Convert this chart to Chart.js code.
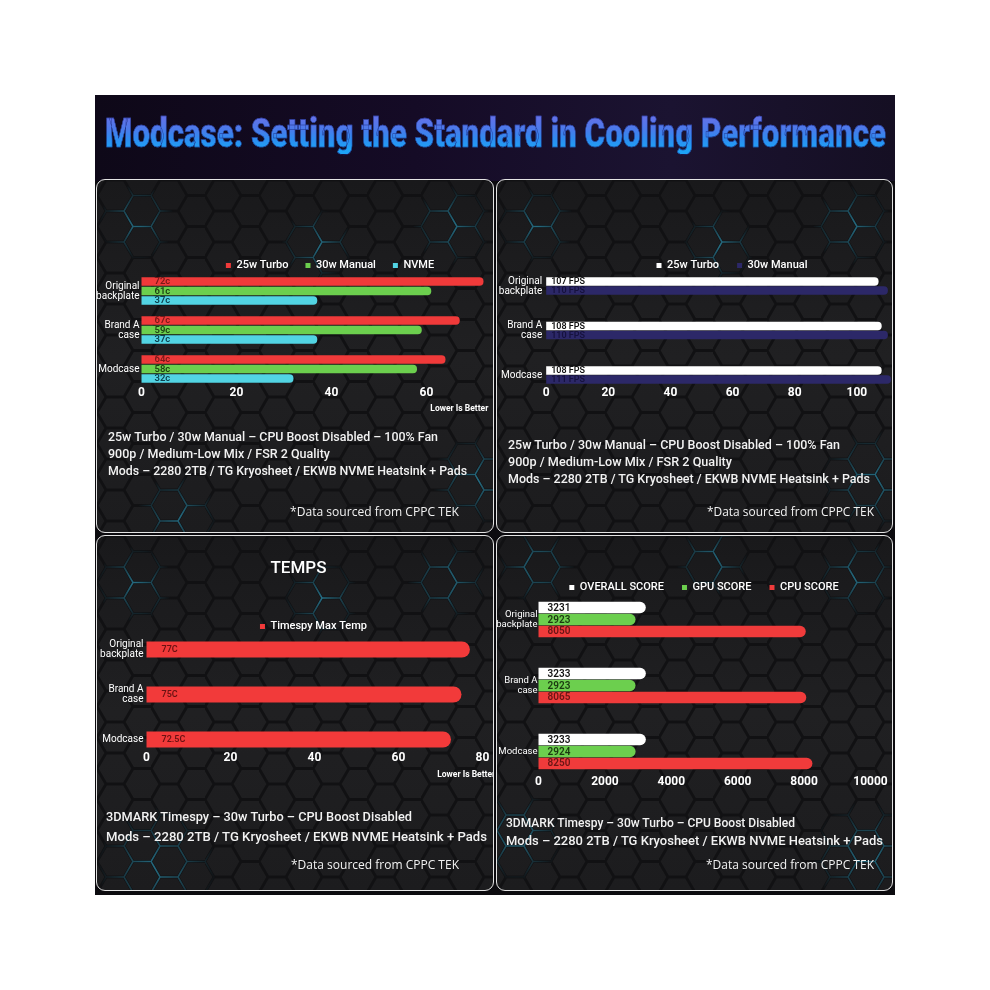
<!DOCTYPE html>
<html><head><meta charset="utf-8">
<script src="https://cdn.jsdelivr.net/npm/chart.js@4.4.1/dist/chart.umd.min.js"></script>
<style>
html,body{margin:0;padding:0;background:#fff;width:990px;height:990px;overflow:hidden;}
#frame{position:absolute;left:95px;top:95px;width:800px;height:800px;background:#0c0b0f;overflow:hidden;}
#band{position:absolute;left:0;top:0;width:800px;height:86px;background:linear-gradient(90deg,#0e0818 0%,#150b26 40%,#1b1331 72%,#150f23 100%);}
#title{position:absolute;left:10px;top:17.5px;white-space:nowrap;font-family:Roboto,'Liberation Sans',sans-serif;font-weight:900;font-size:41px;line-height:41px;color:transparent;background:linear-gradient(180deg,#6272e8 12%,#4a7aea 40%,#2c8df0 65%,#1ea3f6 88%);-webkit-background-clip:text;background-clip:text;transform-origin:0 50%;-webkit-text-stroke:0.5px #1c2c84;}
.panel{position:absolute;box-sizing:border-box;border:1.5px solid #e4e4e4;border-radius:9px;overflow:hidden;background-color:#1e1e20;
background-image:url("data:image/svg+xml,%3Csvg xmlns='http://www.w3.org/2000/svg' width='54' height='31'%3E%3Cpath d='M0 15.5L9 0H27L36 15.5L27 31H9Z M36 15.5H54' fill='none' stroke='%23111113' stroke-width='3'/%3E%3C/svg%3E"),linear-gradient(180deg,#19191b 0%,#202022 50%,#1c1c1e 100%);}
.glow{position:absolute;left:0;top:0;width:100%;height:100%;opacity:0.85;
background-image:url("data:image/svg+xml,%3Csvg xmlns='http://www.w3.org/2000/svg' width='54' height='31'%3E%3Cpath d='M0 15.5L9 0H27L36 15.5L27 31H9Z M36 15.5H54' fill='none' stroke='%232a7e98' stroke-width='1.6'/%3E%3C/svg%3E");}
.panel canvas{position:absolute;left:0;top:0;}
.txt{position:absolute;white-space:nowrap;color:#f2f2f2;font-family:Roboto,sans-serif;font-weight:500;font-size:12px;line-height:14px;transform-origin:0 50%;z-index:5;}
.src{font-family:'Open Sans',sans-serif;font-weight:400;}
</style></head>
<body>
<div id="frame">
  <div id="band"></div>
  <div id="title" class="fit" data-w="781">Modcase: Setting the Standard in Cooling Performance</div>

  <div class="panel" id="p1" style="left:1px;top:84px;width:398px;height:354px;">
    <div class="glow" style="-webkit-mask-image:radial-gradient(circle 38px at 40px 42px,#000,transparent),radial-gradient(circle 36px at 220px 65px,#000,transparent),radial-gradient(circle 40px at 355px 45px,#000,transparent),radial-gradient(circle 45px at 380px 300px,#000,transparent),radial-gradient(circle 40px at 80px 335px,#000,transparent);mask-image:radial-gradient(circle 38px at 40px 42px,#000,transparent),radial-gradient(circle 36px at 220px 65px,#000,transparent),radial-gradient(circle 40px at 355px 45px,#000,transparent),radial-gradient(circle 45px at 380px 300px,#000,transparent),radial-gradient(circle 40px at 80px 335px,#000,transparent);"></div>
    <canvas id="c1" width="395" height="240"></canvas>
  </div>
  <div class="panel" id="p2" style="left:401px;top:84px;width:397px;height:354px;">
    <div class="glow" style="-webkit-mask-image:radial-gradient(circle 38px at 40px 45px,#000,transparent),radial-gradient(circle 36px at 222px 65px,#000,transparent),radial-gradient(circle 40px at 355px 45px,#000,transparent),radial-gradient(circle 50px at 375px 300px,#000,transparent);mask-image:radial-gradient(circle 38px at 40px 45px,#000,transparent),radial-gradient(circle 36px at 222px 65px,#000,transparent),radial-gradient(circle 40px at 355px 45px,#000,transparent),radial-gradient(circle 50px at 375px 300px,#000,transparent);"></div>
    <canvas id="c2" width="394" height="240"></canvas>
  </div>
  <div class="panel" id="p3" style="left:1px;top:440px;width:398px;height:356px;">
    <div class="glow" style="-webkit-mask-image:radial-gradient(circle 38px at 38px 48px,#000,transparent),radial-gradient(circle 38px at 225px 62px,#000,transparent),radial-gradient(circle 40px at 350px 45px,#000,transparent),radial-gradient(circle 60px at 60px 330px,#000,transparent);mask-image:radial-gradient(circle 38px at 38px 48px,#000,transparent),radial-gradient(circle 38px at 225px 62px,#000,transparent),radial-gradient(circle 40px at 350px 45px,#000,transparent),radial-gradient(circle 60px at 60px 330px,#000,transparent);"></div>
    <canvas id="c3" width="405" height="250"></canvas>
  </div>
  <div class="panel" id="p4" style="left:401px;top:440px;width:397px;height:356px;">
    <div class="glow" style="-webkit-mask-image:radial-gradient(circle 38px at 40px 30px,#000,transparent),radial-gradient(circle 36px at 215px 25px,#000,transparent),radial-gradient(circle 40px at 360px 40px,#000,transparent),radial-gradient(circle 55px at 370px 320px,#000,transparent),radial-gradient(circle 45px at 20px 300px,#000,transparent);mask-image:radial-gradient(circle 38px at 40px 30px,#000,transparent),radial-gradient(circle 36px at 215px 25px,#000,transparent),radial-gradient(circle 40px at 360px 40px,#000,transparent),radial-gradient(circle 55px at 370px 320px,#000,transparent),radial-gradient(circle 45px at 20px 300px,#000,transparent);"></div>
    <canvas id="c4" width="414" height="260"></canvas>
  </div>

  <div class="txt fit" data-w="330" style="left:13px;top:334.7px;">25w Turbo / 30w Manual – CPU Boost Disabled – 100% Fan</div>
  <div class="txt fit" data-w="222" style="left:13px;top:352px;">900p / Medium-Low Mix / FSR 2 Quality</div>
  <div class="txt fit" data-w="359" style="left:13px;top:368.7px;">Mods – 2280 2TB / TG Kryosheet / EKWB NVME Heatsink + Pads</div>
  <div class="txt src fit" data-w="169" style="left:195px;top:409.7px;">*Data sourced from CPPC TEK</div>

  <div class="txt fit" data-w="332" style="left:413px;top:343px;">25w Turbo / 30w Manual – CPU Boost Disabled – 100% Fan</div>
  <div class="txt fit" data-w="224" style="left:413px;top:359.7px;">900p / Medium-Low Mix / FSR 2 Quality</div>
  <div class="txt fit" data-w="362" style="left:413px;top:377px;">Mods – 2280 2TB / TG Kryosheet / EKWB NVME Heatsink + Pads</div>
  <div class="txt src fit" data-w="167" style="left:612px;top:409.7px;">*Data sourced from CPPC TEK</div>

  <div class="txt fit" data-w="306" style="left:11px;top:715px;">3DMARK Timespy – 30w Turbo – CPU Boost Disabled</div>
  <div class="txt fit" data-w="381" style="left:11px;top:734.5px;">Mods – 2280 2TB / TG Kryosheet / EKWB NVME Heatsink + Pads</div>
  <div class="txt src fit" data-w="168" style="left:196px;top:763px;">*Data sourced from CPPC TEK</div>

  <div class="txt fit" data-w="289" style="left:411px;top:721px;">3DMARK Timespy – 30w Turbo – CPU Boost Disabled</div>
  <div class="txt fit" data-w="377" style="left:411px;top:739px;">Mods – 2280 2TB / TG Kryosheet / EKWB NVME Heatsink + Pads</div>
  <div class="txt src fit" data-w="168" style="left:611px;top:763px;">*Data sourced from CPPC TEK</div>
</div>

<script>
// ---- data ----
const categories = [['Original', 'backplate'], ['Brand A', 'case'], 'Modcase'];

// panel 1: temperatures (°C)
const tempTurbo25 = [72, 67, 64];
const tempManual30 = [61, 59, 58];
const tempNvme = [37, 37, 32];

// panel 2: FPS
const fpsTurbo25 = [107, 108, 108];
const fpsManual30 = [110, 110, 111];

// panel 3: Timespy max temp
const timespyMaxTemp = [77, 75, 72.5];

// panel 4: 3DMark scores
const overallScore = [3231, 3233, 3233];
const gpuScore = [2923, 2923, 2924];
const cpuScore = [8050, 8065, 8250];

// ---- plugins ----
Chart.defaults.font.family = 'Roboto, sans-serif';
Chart.defaults.color = '#ffffff';

const tweak = {
  id: 'tweak',
  beforeInit(chart, args, opts) {
    const lg = chart.legend;
    const extra = opts.legendExtra || 0;
    if (lg) {
      const f = lg.fit;
      lg.fit = function () { f.call(this); this.height += extra; };
    }
  },
  afterLayout(chart, args, opts) {
    const shift = (box, cx) => {
      if (!box || cx == null) return;
      const dx = cx - (box.left + box.right) / 2;
      box.left += dx; box.right += dx;
    };
    shift(chart.legend, opts.legendCx);
    shift(chart.titleBlock, opts.titleCx);
  }
};

const barLabels = {
  id: 'barLabels',
  afterDatasetsDraw(chart, args, opts) {
    const ctx = chart.ctx;
    chart.data.datasets.forEach((ds, i) => {
      const meta = chart.getDatasetMeta(i);
      meta.data.forEach((el, j) => {
        ctx.save();
        ctx.font = opts.font;
        ctx.fillStyle = ds.labelColor;
        ctx.textAlign = 'left';
        ctx.textBaseline = 'middle';
        ctx.fillText(ds.data[j] + opts.suffix, el.base + opts.offset, el.y + 0.5);
        ctx.restore();
      });
    });
  }
};

function makeChart(id, cfg) {
  return new Chart(document.getElementById(id), {
    type: 'bar',
    data: {
      labels: categories,
      datasets: cfg.datasets.map(d => ({
        label: d.label, data: d.data, backgroundColor: d.color, labelColor: d.labelColor,
        borderWidth: 0, borderRadius: cfg.radius, borderSkipped: 'start',
        categoryPercentage: cfg.catPct, barPercentage: cfg.barPct, clip: false
      }))
    },
    options: {
      indexAxis: 'y', responsive: false, animation: false, devicePixelRatio: 1,
      layout: { padding: cfg.pad },
      scales: {
        x: {
          min: 0, max: cfg.max,
          grid: { display: false, drawTicks: false }, border: { display: false },
          ticks: { stepSize: cfg.step, includeBounds: false, padding: cfg.tickPad, color: '#ffffff',
                   font: { size: 12, weight: 'bold' }, callback: v => String(v) },
          title: cfg.axisTitle ? { display: true, text: cfg.axisTitle, align: 'end', color: '#ffffff',
                   font: { size: 8.5, weight: 'bold' }, padding: 0 } : { display: false },
          afterFit: s => { s.height = cfg.xH; }
        },
        y: {
          offset: false,
          grid: { display: false, drawTicks: false }, border: { display: false },
          ticks: { autoSkip: false, padding: cfg.yPad, color: '#ffffff', font: { size: cfg.yFont, lineHeight: 1 } },
          afterFit: s => { s.width = cfg.yW; }
        }
      },
      plugins: {
        legend: { position: 'top', labels: { color: '#ffffff', boxWidth: 5, boxHeight: 5,
                  padding: cfg.legendPad, font: { size: 11, weight: '500' } } },
        title: cfg.title ? { display: true, text: cfg.title, color: '#ffffff',
                  font: { size: 17, weight: '500' }, padding: cfg.titlePad } : { display: false },
        tooltip: { enabled: false },
        tweak: { legendExtra: cfg.legendExtra, legendCx: cfg.legendCx, titleCx: cfg.titleCx },
        barLabels: { offset: cfg.labelOffset, font: cfg.labelFont, suffix: cfg.suffix }
      }
    },
    plugins: [tweak, barLabels]
  });
}

makeChart('c1', {
  datasets: [
    { label: '25w Turbo', data: tempTurbo25, color: '#f03a3a', labelColor: '#7a1818' },
    { label: '30w Manual', data: tempManual30, color: '#6ccf4e', labelColor: '#1d4212' },
    { label: 'NVME', data: tempNvme, color: '#52d4e3', labelColor: '#0e4250' }
  ],
  max: 73, step: 20, yW: 44.5, yPad: 2, yFont: 10, xH: 44.6, tickPad: 16.3,
  pad: { top: 63, left: 0, right: 3.75, bottom: 6.4 },
  legendPad: 17, legendExtra: 10, legendCx: 233,
  axisTitle: 'Lower Is Better',
  catPct: 0.73, barPct: 0.9, radius: 4,
  labelOffset: 13, labelFont: '600 9.5px Roboto', suffix: 'c'
});

makeChart('c2', {
  datasets: [
    { label: '25w Turbo', data: fpsTurbo25, color: '#ffffff', labelColor: '#111111' },
    { label: '30w Manual', data: fpsManual30, color: '#2c2868', labelColor: '#16123e' }
  ],
  max: 111, step: 20, yW: 49.2, yPad: 4, yFont: 10, xH: 30, tickPad: 10.3,
  pad: { top: 62, left: 0, right: 0, bottom: 15 },
  legendPad: 18, legendExtra: 5, legendCx: 235,
  catPct: 0.405, barPct: 0.95, radius: 4,
  labelOffset: 5, labelFont: '600 9px Roboto', suffix: ' FPS'
});

makeChart('c3', {
  datasets: [
    { label: 'Timespy Max Temp', data: timespyMaxTemp, color: '#f23a3a', labelColor: '#6a1212' }
  ],
  max: 83, step: 20, yW: 49.5, yPad: 3, yFont: 10, xH: 40.1, tickPad: 10.8,
  pad: { top: 0, left: 0, right: 6.9, bottom: 6.4 },
  title: 'TEMPS', titlePad: { top: 22.3, bottom: 32.3 }, titleCx: 201.5,
  legendPad: 10, legendExtra: 7.5, legendCx: 216.5,
  axisTitle: 'Lower Is Better',
  catPct: 0.36, barPct: 1, radius: 8,
  labelOffset: 15, labelFont: '600 9px Roboto', suffix: 'C'
});

makeChart('c4', {
  datasets: [
    { label: 'OVERALL SCORE', data: overallScore, color: '#ffffff', labelColor: '#111111' },
    { label: 'GPU SCORE', data: gpuScore, color: '#6ccf4e', labelColor: '#1b3a10' },
    { label: 'CPU SCORE', data: cpuScore, color: '#f03b3b', labelColor: '#6a1515' }
  ],
  max: 10000, step: 2000, yW: 41.5, yPad: 1, yFont: 9.5, xH: 40, tickPad: 22.8,
  pad: { top: 28, left: 0, right: 40.5, bottom: 4.5 },
  legendPad: 18, legendExtra: 16.5, legendCx: 207,
  catPct: 0.545, barPct: 0.95, radius: 6,
  labelOffset: 9, labelFont: '600 10px Roboto', suffix: ''
});

// fit text lines to their measured widths
document.querySelectorAll('.fit').forEach(el => {
  const w = el.getBoundingClientRect().width;
  const t = parseFloat(el.dataset.w);
  if (w > 0) el.style.transform = 'scaleX(' + (t / w) + ')';
});
</script>
</body></html>
